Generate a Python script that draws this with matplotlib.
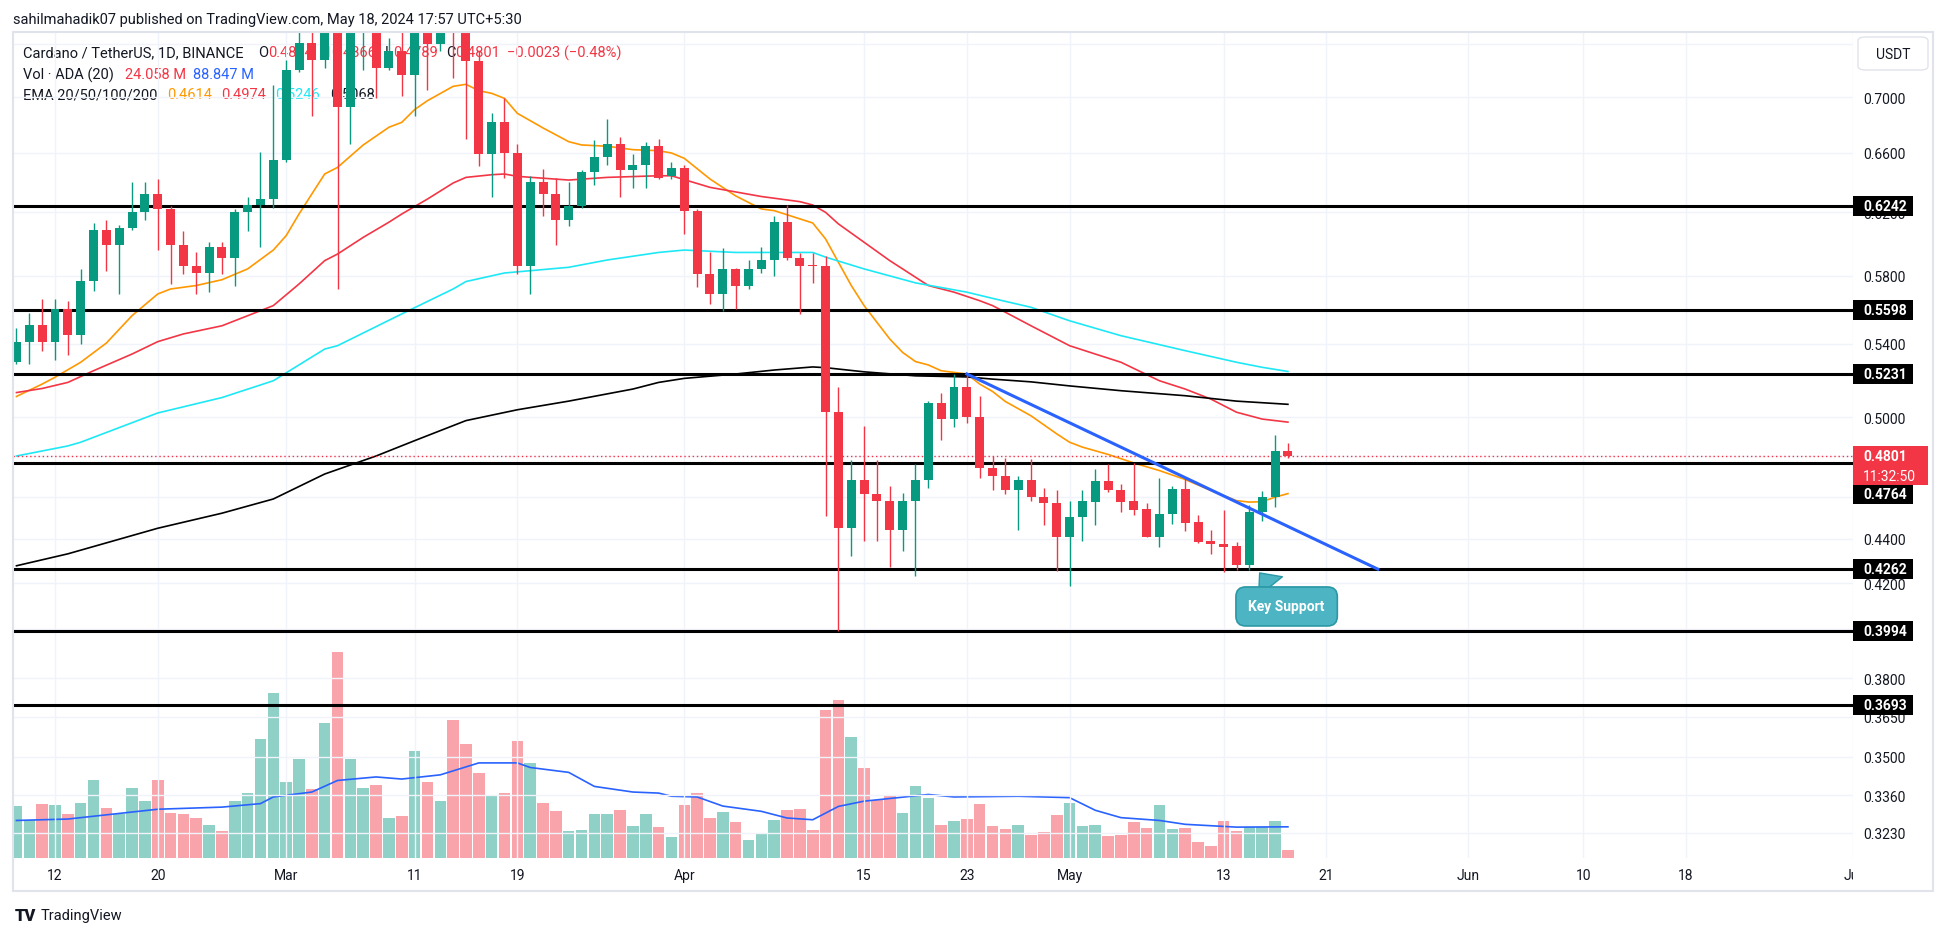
import numpy as np
import pandas as pd
import matplotlib
matplotlib.use("Agg")
import matplotlib.pyplot as plt
import matplotlib.dates as mdates
from matplotlib.patches import Rectangle, FancyBboxPatch
from matplotlib.ticker import NullLocator
from matplotlib.transforms import Bbox

plt.rcParams['font.family'] = ['Roboto', 'DejaVu Sans']

W, H = 1946, 937

# daily candles ADA/USDT, first bar 2024-02-09
start = "2024-02-09"
opens = [0.530, 0.541, 0.551, 0.541, 0.560, 0.545, 0.577, 0.609, 0.599, 0.610,
         0.620, 0.632, 0.622, 0.599, 0.586, 0.582, 0.598, 0.591, 0.620, 0.625,
         0.629, 0.655, 0.720, 0.741, 0.728, 0.765, 0.6925, 0.755, 0.765, 0.722,
         0.735, 0.7166, 0.755, 0.740, 0.780, 0.755, 0.727, 0.659, 0.682, 0.660,
         0.586, 0.640, 0.632, 0.615, 0.624, 0.647, 0.657, 0.666, 0.648, 0.652,
         0.665, 0.644, 0.650, 0.621, 0.581, 0.569, 0.584, 0.574, 0.584, 0.590,
         0.614, 0.591, 0.587, 0.586, 0.5026, 0.445, 0.468, 0.461, 0.458, 0.444,
         0.458, 0.468, 0.5075, 0.499, 0.516, 0.500, 0.474, 0.470, 0.463, 0.468,
         0.460, 0.457, 0.441, 0.450, 0.4575, 0.4676, 0.463, 0.458, 0.454, 0.441,
         0.4515, 0.4637, 0.4477, 0.439, 0.4376, 0.4366, 0.428, 0.4525, 0.4597, 0.4824]
highs = [0.549, 0.558, 0.566, 0.566, 0.565, 0.584, 0.613, 0.615, 0.612, 0.640,
         0.640, 0.642, 0.624, 0.608, 0.595, 0.601, 0.601, 0.622, 0.630, 0.661,
         0.709, 0.728, 0.760, 0.765, 0.775, 0.800, 0.765, 0.775, 0.785, 0.745,
         0.750, 0.770, 0.770, 0.800, 0.810, 0.760, 0.735, 0.688, 0.699, 0.666,
         0.644, 0.649, 0.643, 0.640, 0.648, 0.669, 0.684, 0.671, 0.659, 0.668,
         0.670, 0.654, 0.652, 0.622, 0.595, 0.597, 0.585, 0.590, 0.598, 0.618,
         0.625, 0.594, 0.594, 0.592, 0.516, 0.478, 0.4955, 0.478, 0.465, 0.4615,
         0.476, 0.5087, 0.513, 0.523, 0.5225, 0.511, 0.480, 0.479, 0.470, 0.4785,
         0.464, 0.463, 0.458, 0.463, 0.4735, 0.476, 0.466, 0.4766, 0.457, 0.469,
         0.465, 0.469, 0.4512, 0.444, 0.4533, 0.4385, 0.456, 0.4626, 0.4907, 0.4866]
lows = [0.529, 0.529, 0.536, 0.531, 0.534, 0.540, 0.571, 0.583, 0.569, 0.609,
        0.615, 0.596, 0.575, 0.581, 0.569, 0.570, 0.581, 0.574, 0.608, 0.598,
        0.623, 0.654, 0.719, 0.686, 0.722, 0.572, 0.666, 0.7198, 0.699, 0.720,
        0.701, 0.686, 0.705, 0.735, 0.714, 0.670, 0.651, 0.630, 0.643, 0.581,
        0.569, 0.618, 0.599, 0.611, 0.623, 0.638, 0.652, 0.630, 0.636, 0.636,
        0.642, 0.642, 0.606, 0.573, 0.563, 0.559, 0.560, 0.572, 0.582, 0.580,
        0.590, 0.557, 0.576, 0.4505, 0.3994, 0.432, 0.439, 0.439, 0.427, 0.4345,
        0.423, 0.464, 0.488, 0.495, 0.497, 0.469, 0.463, 0.461, 0.444, 0.458,
        0.4465, 0.4255, 0.4187, 0.439, 0.4465, 0.462, 0.4524, 0.4512, 0.441, 0.436,
        0.447, 0.4434, 0.438, 0.433, 0.425, 0.4257, 0.426, 0.4485, 0.455, 0.4789]
closes = [0.541, 0.551, 0.541, 0.560, 0.545, 0.577, 0.609, 0.599, 0.610, 0.620,
          0.632, 0.622, 0.599, 0.586, 0.582, 0.598, 0.591, 0.620, 0.625, 0.629,
          0.655, 0.720, 0.741, 0.728, 0.765, 0.6925, 0.755, 0.765, 0.722, 0.735,
          0.7166, 0.755, 0.740, 0.780, 0.755, 0.727, 0.659, 0.682, 0.660, 0.586,
          0.640, 0.632, 0.615, 0.624, 0.647, 0.657, 0.666, 0.648, 0.652, 0.665,
          0.643, 0.650, 0.621, 0.581, 0.569, 0.584, 0.574, 0.584, 0.590, 0.614,
          0.591, 0.586, 0.586, 0.5026, 0.445, 0.468, 0.461, 0.458, 0.444, 0.458,
          0.468, 0.5075, 0.499, 0.516, 0.500, 0.474, 0.470, 0.463, 0.468, 0.460,
          0.457, 0.441, 0.450, 0.458, 0.4676, 0.463, 0.4575, 0.4537, 0.441, 0.4515,
          0.4637, 0.4474, 0.4385, 0.4374, 0.4364, 0.428, 0.4528, 0.4597, 0.4824, 0.4801]
# volume in millions of ADA
volumes = [147, 109, 153, 150, 125, 156, 221, 142, 125, 199, 162, 221, 127, 125, 113,
           93, 76, 162, 184, 338, 469, 216, 281, 196, 384,
           586, 281, 199, 207, 113, 119, 304, 216, 162, 392, 324, 241, 179, 184, 333,
           270, 156, 133, 76, 79, 125, 125, 136, 90, 125, 87,
           59, 150, 184, 113, 130, 102, 50, 70, 107, 136, 139, 79, 421, 449, 344,
           256, 164, 179, 127, 204, 170, 93, 105, 110, 153,
           90, 82, 93, 65, 73, 122, 156, 90, 93, 62, 65, 102, 85, 150, 82, 85,
           45, 33, 105, 76, 87, 87, 105, 24.058]

# volume MA(20), sampled at bar numbers
vma_idx = [0, 4, 11, 16, 19, 20, 23, 25, 28, 30, 33, 36, 39, 40, 43, 45, 48, 50, 51, 53,
           55, 58, 60, 62, 64, 66, 71, 73, 78, 82, 84, 86, 89, 91, 95, 99]
vma_val = [107, 111, 139, 145, 155, 174, 188, 221, 231, 225, 237, 271, 271, 258, 244, 204,
           188, 185, 176, 174, 148, 133, 114, 109, 147, 162, 181, 174, 176, 172, 136, 115,
           107, 96, 88, 88.847]

ema20_idx = [0, 2, 3, 5, 7, 9, 11, 12, 14, 16, 18, 20, 21, 22, 23, 24, 25, 27, 29, 30, 31,
             32, 34, 35, 36, 37, 38, 39, 41, 43, 44, 46, 48, 50, 51, 52, 54, 56, 58, 59, 62,
             63, 64, 65, 66, 67, 68, 69, 70, 71, 72, 73, 74, 75, 76, 77, 79, 81, 82, 83, 85,
             87, 89, 91, 93, 95, 96, 97, 98, 99]
ema20_val = [0.5110, 0.5177, 0.5214, 0.5297, 0.5405, 0.5563, 0.5691, 0.5721, 0.5742, 0.5777,
             0.5843, 0.5960, 0.6051, 0.6190, 0.6322, 0.6456, 0.6501, 0.6656, 0.6781, 0.6816,
             0.6908, 0.6973, 0.7079, 0.7094, 0.7047, 0.7027, 0.6990, 0.6881, 0.6776, 0.6679,
             0.6656, 0.6647, 0.6623, 0.6616, 0.6600, 0.6563, 0.6422, 0.6309, 0.6223, 0.6212,
             0.6132, 0.6030, 0.5884, 0.5742, 0.5622, 0.5524, 0.5428, 0.5352, 0.5301, 0.5282,
             0.5250, 0.5241, 0.5232, 0.5177, 0.5137, 0.5083, 0.5007, 0.4913, 0.4870, 0.4845,
             0.4808, 0.4765, 0.4727, 0.4683, 0.4629, 0.4580, 0.4573, 0.4575, 0.4597, 0.4614]
ema50_idx = [0, 2, 4, 6, 9, 11, 13, 16, 19, 20, 22, 24, 25, 27, 29, 30, 32, 34, 35, 37, 38,
             39, 43, 46, 50, 51, 54, 58, 61, 62, 63, 64, 66, 68, 69, 71, 73, 75, 76, 77, 79,
             82, 84, 86, 89, 91, 93, 95, 97, 99]
ema50_val = [0.5131, 0.5153, 0.5186, 0.5250, 0.5343, 0.5413, 0.5457, 0.5504, 0.5592, 0.5622,
             0.5751, 0.5894, 0.5935, 0.6040, 0.6137, 0.6190, 0.6288, 0.6395, 0.6433, 0.6451,
             0.6456, 0.6440, 0.6415, 0.6433, 0.6444, 0.6444, 0.6366, 0.6305, 0.6271, 0.6249,
             0.6201, 0.6126, 0.6009, 0.5894, 0.5843, 0.5742, 0.5702, 0.5651, 0.5622, 0.5583,
             0.5504, 0.5390, 0.5343, 0.5297, 0.5195, 0.5150, 0.5096, 0.5026, 0.4990, 0.4974]
ema100_idx = [0, 4, 5, 11, 16, 20, 24, 25, 30, 34, 35, 38, 43, 46, 50, 52, 56, 62, 63, 66,
              70, 74, 76, 79, 82, 86, 91, 95, 97, 99]
ema100_val = [0.4800, 0.4851, 0.4870, 0.5022, 0.5104, 0.5195, 0.5371, 0.5390, 0.5573, 0.5721,
              0.5766, 0.5818, 0.5853, 0.5898, 0.5945, 0.5960, 0.5945, 0.5945, 0.5916, 0.5843,
              0.5758, 0.5702, 0.5665, 0.5612, 0.5533, 0.5447, 0.5362, 0.5297, 0.5269, 0.5246]
ema200_idx = [0, 4, 11, 16, 20, 24, 28, 31, 35, 39, 43, 48, 50, 52, 56, 59, 62, 63, 66, 70,
              74, 76, 79, 82, 86, 91, 95, 99]
ema200_val = [0.4277, 0.4331, 0.4449, 0.4520, 0.4588, 0.4710, 0.4800, 0.4878, 0.4982, 0.5039,
              0.5085, 0.5150, 0.5186, 0.5208, 0.5232, 0.5254, 0.5271, 0.5267, 0.5244, 0.5222,
              0.5216, 0.5204, 0.5189, 0.5167, 0.5141, 0.5114, 0.5085, 0.5068]

# drawn trendline and horizontal levels
trend_dates = ["2024-04-23", "2024-05-25"]
trend_vals = [0.5232, 0.4262]
levels = [0.6242, 0.5598, 0.5231, 0.4764, 0.4262, 0.3994, 0.3693]
last_price = 0.4801

price_ticks = [0.3230, 0.3360, 0.3500, 0.3650, 0.3800, 0.4000, 0.4200, 0.4400, 0.4600,
               0.4800, 0.5000, 0.5400, 0.5800, 0.6200, 0.6600, 0.7000, 0.7400]
hidden_ticks = [0.4000, 0.4600, 0.4800, 0.7400]   # gridline only, label covered in the original
date_ticks = ["2024-02-12", "2024-02-20", "2024-03-01", "2024-03-11", "2024-03-19",
              "2024-04-01", "2024-04-15", "2024-04-23", "2024-05-01", "2024-05-13",
              "2024-05-21", "2024-06-01", "2024-06-10", "2024-06-18", "2024-07-01"]
date_labels = ["12", "20", "Mar", "11", "19", "Apr", "15", "23", "May", "13", "21",
               "Jun", "10", "18", "Jul"]

GREEN, RED = '#089981', '#f23645'
DARK = '#131722'

dates = pd.date_range(start, periods=len(closes), freq="D")
x = mdates.date2num(dates)
o, h, l, c = map(np.array, (opens, highs, lows, closes))
up = c >= o
col = np.where(up, GREEN, RED)


def fx(px):
    return px / W


def fy(py):
    return 1 - py / H


fig = plt.figure(figsize=(W / 100, H / 100), dpi=100)
rect = [fx(13), fy(859), 1840 / W, 826 / H]
axv = fig.add_axes(rect, zorder=0)
ax = fig.add_axes(rect, zorder=1, sharex=axv)
ax.patch.set_visible(False)

# volume pane
axv.bar(x, volumes, width=0.9, color=col, alpha=0.45, linewidth=0)
axv.plot(mdates.date2num(dates[vma_idx]), vma_val, color='#2962ff', lw=1.2)
axv.set_ylim(0, 826 * 2.85)
for s in axv.spines.values():
    s.set_visible(False)
axv.tick_params(left=False, labelleft=False, bottom=False, labelbottom=False)

# price pane
ax.set_yscale('log')
ybot, ytop = 0.3146, 0.7495
ax.set_ylim(ybot, ytop)
x0 = mdates.date2num(pd.Timestamp(start))
ax.set_xlim(x0 - 0.27, x0 + 142.92)
PXLN = 826 / np.log(ytop / ybot)

ax.vlines(x, l, h, colors=col, lw=1.0, zorder=3)
ax.bar(x, np.abs(c - o), bottom=np.minimum(o, c), width=0.7, color=col, linewidth=0, zorder=4)

ax.plot(mdates.date2num(dates[ema20_idx]), ema20_val, color='#ff9800', lw=1.2, zorder=2.6)
ax.plot(mdates.date2num(dates[ema50_idx]), ema50_val, color='#f23645', lw=1.2, zorder=2.6)
ax.plot(mdates.date2num(dates[ema100_idx]), ema100_val, color='#1ee8f5', lw=1.2, zorder=2.6)
ax.plot(mdates.date2num(dates[ema200_idx]), ema200_val, color='black', lw=1.2, zorder=2.6)

ax.plot(mdates.date2num(pd.to_datetime(trend_dates)), trend_vals, color='#2962ff', lw=2.2,
        zorder=5)
for lv in levels:
    ax.axhline(lv, color='black', lw=2.2, zorder=2.8)
ax.axhline(last_price, color=RED, lw=1.0, ls=(0, (1, 2)), zorder=2.7)

# axes styling
for s in ax.spines.values():
    s.set_visible(False)
ax.yaxis.tick_right()
ax.set_yticks(price_ticks)
ax.set_yticklabels(["" if v in hidden_ticks else f"{v:.4f}" for v in price_ticks])
ax.yaxis.set_minor_locator(NullLocator())
ax.tick_params(axis='y', length=0, pad=7.5, labelsize=10, labelcolor=DARK)
ax.set_xticks(mdates.date2num(pd.to_datetime(date_ticks)))
ax.set_xticklabels(date_labels)
ax.tick_params(axis='x', length=0, pad=7, labelsize=10, labelcolor=DARK)
ax.grid(True, color='#f0f3fa', lw=1.0, zorder=0)
ax.set_axisbelow(True)
clip = Bbox.from_extents(0, 0, 1853, H)
for lbl in ax.get_xticklabels():
    lbl.set_clip_box(clip)
    lbl.set_clip_on(True)

# right-axis price boxes; 0.4764 is pushed below the live-price box as in TradingView
ytr = ax.get_yaxis_transform()
for lv in levels:
    shift = -31 if lv == 0.4764 else 0
    yc = lv * np.exp(shift / PXLN)
    ax.add_patch(Rectangle((1.0, yc * np.exp(-10 / PXLN)), 60 / 1840,
                           yc * (np.exp(10 / PXLN) - np.exp(-10 / PXLN)),
                           transform=ytr, fc='black', ec='none', clip_on=False, zorder=6))
    ax.text(1.0 + 10 / 1840, yc, f"{lv:.4f}", transform=ytr, ha='left', va='center',
            color='white', fontsize=10, fontweight='bold', clip_on=False, zorder=7)
ax.add_patch(Rectangle((1.0, last_price * np.exp(-29 / PXLN)), 75 / 1840,
                       last_price * (np.exp(10 / PXLN) - np.exp(-29 / PXLN)),
                       transform=ytr, fc=RED, ec='none', clip_on=False, zorder=6))
ax.text(1.0 + 10 / 1840, last_price, f"{last_price:.4f}", transform=ytr, ha='left',
        va='center', color='white', fontsize=10, fontweight='bold', clip_on=False, zorder=7)
ax.text(1.0 + 10 / 1840, last_price * np.exp(-20 / PXLN), "11:32:50", transform=ytr,
        ha='left', va='center', color='white', fontsize=10, clip_on=False, zorder=7)

# callout
tip_x = x0 + 96.8
box_x = x0 + 98.9
ax.annotate("Key Support", xy=(tip_x, 0.4245), xytext=(box_x, 0.4098), textcoords='data',
            ha='center', va='center', color='white', fontsize=10, fontweight='bold',
            bbox=dict(boxstyle='round,pad=0.9,rounding_size=0.7', fc='#4cb4c2', ec='#2a98a6',
                      lw=1.2),
            arrowprops=dict(arrowstyle='wedge,tail_width=2.2,shrink_factor=0.5',
                            fc='#4cb4c2', ec='#2a98a6', lw=1.0, shrinkA=0, shrinkB=0),
            zorder=8)

# header and legend (under the candles)
fig.text(fx(13), fy(20), "sahilmahadik07 published on TradingView.com, May 18, 2024 17:57 UTC+5:30",
         fontsize=10.5, color=DARK, va='center')
legend_rows = [
    (53, [(23, "Cardano / TetherUS, 1D, BINANCE", DARK), (258, "O", DARK), (268, "0.4824", RED),
          (320, "H", DARK), (331, "0.4866", RED), (385, "L", DARK), (393, "0.4789", RED),
          (446, "C", DARK), (455, "0.4801", RED), (507, "\u22120.0023 (\u22120.48%)", RED)]),
    (75, [(23, "Vol \u00b7 ADA (20)", DARK), (125, "24.058 M", RED), (193, "88.847 M", '#2962ff')]),
    (95, [(23, "EMA 20/50/100/200", DARK), (167, "0.4614", '#ff9800'), (221, "0.4974", RED),
          (275, "0.5246", '#1ee8f5'), (330, "0.5068", DARK)]),
]
for yy, parts in legend_rows:
    for xx, txt, cc in parts:
        fig.text(fx(xx), fy(yy), txt, fontsize=10.5, color=cc, va='center', zorder=0.5)

# frame, USDT button, logo
fig.add_artist(Rectangle((fx(13), fy(892)), (1933 - 13) / W, (892 - 33) / H,
                         transform=fig.transFigure, fill=False, ec='#e0e3eb', lw=1.5, zorder=9))
fig.add_artist(FancyBboxPatch((fx(1858), fy(71)), 70 / W, 33 / H,
                              boxstyle='round,pad=0,rounding_size=0.004',
                              transform=fig.transFigure, fc='white', ec='#e0e3eb', lw=1.0,
                              zorder=9))
fig.text(fx(1893), fy(55), "USDT", fontsize=10, color=DARK, ha='center', va='center', zorder=10)
fig.text(fx(15), fy(916), "TV", fontsize=12, fontweight='heavy', color=DARK, va='center')
fig.text(fx(41), fy(916), "TradingView", fontsize=10.5, color=DARK, va='center')

fig.savefig("out.png", dpi=100, facecolor='white')
